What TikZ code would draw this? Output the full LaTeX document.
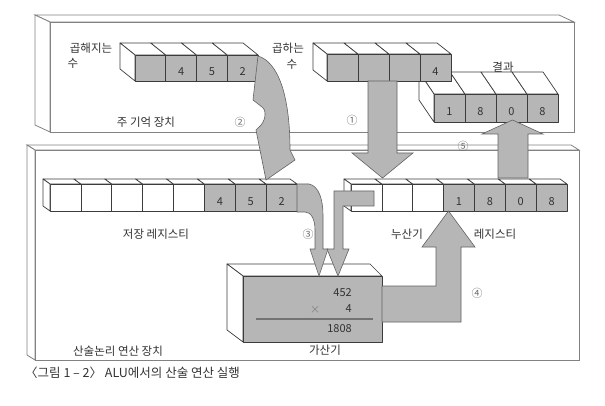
\documentclass[tikz,border=0pt]{standalone}
\usepackage{fontspec}
\setmainfont{Noto Sans CJK KR}
\definecolor{fillg}{RGB}{182,182,182}
\definecolor{linec}{RGB}{60,60,60}
\definecolor{boxc}{RGB}{130,130,130}
\definecolor{txt}{RGB}{50,50,50}
\definecolor{circc}{RGB}{110,110,110}
\tikzset{
  regline/.style={draw=linec, line width=0.7pt, line join=round},
  boxline/.style={draw=boxc, line width=0.8pt, fill=white},
  arrowshape/.style={draw=linec!80, line width=0.6pt, fill=fillg, line join=miter},
  digit/.style={text=txt, font=\fontsize{11}{12}\selectfont, inner sep=0pt},
  lbl/.style={text=txt, font=\fontsize{11.5}{13}\selectfont, inner sep=0pt},
  circnum/.style={text=circc, font=\fontsize{11}{12}\selectfont, inner sep=0pt},
}
% register: x0, ytop, ybot, cell width, dx, dy, list colour/label
\newcommand{\regdraw}[7]{%
  \foreach [count=\ii from 0] \fc/\lb in {#7} {%
    \pgfmathsetmacro\xa{#1+\ii*#4}%
    \pgfmathsetmacro\xb{#1+(\ii+1)*#4}%
    \filldraw[regline, fill=white] (\xa,#2) -- (\xb,#2) -- (\xb-#5,#2-#6) -- (\xa-#5,#2-#6) -- cycle;
    \filldraw[regline, fill=\fc] (\xa,#2) rectangle (\xb,#3);
    \node[digit] at ({(\xa+\xb)/2},{(#2+#3)/2+4}) {\lb};
  }%
  \filldraw[regline, fill=white] (#1,#2) -- (#1-#5,#2-#6) -- (#1-#5,#3-#6) -- (#1,#3) -- cycle;
}
% 3D box: x1,y1 front top-left, x2,y2 front bottom-right, dx, dy, style
\newcommand{\boxthree}[7]{%
  \filldraw[#7] (#1,#2) -- (#3,#2) -- (#3-#5,#2-#6) -- (#1-#5,#2-#6) -- cycle;
  \filldraw[#7] (#1,#2) -- (#1-#5,#2-#6) -- (#1-#5,#4-#6) -- (#1,#4) -- cycle;
  \filldraw[#7] (#1,#2) rectangle (#3,#4);
}
\begin{document}
\begin{tikzpicture}[x=1pt,y=-1pt]
\useasboundingbox (0,0) rectangle (605,406);
% main memory
\boxthree{50}{22}{574}{132}{15}{7}{boxline}
% ALU
\boxthree{35}{150}{579}{360}{8}{5}{boxline}
% registers in memory
\regdraw{434}{94}{122}{31}{15}{22}{fillg/1,fillg/8,fillg/0,fillg/8}
\regdraw{327}{54}{81}{31}{14}{11}{fillg/,fillg/,fillg/,fillg/4}
\regdraw{135}{55}{81}{30.75}{15}{12}{fillg/,fillg/4,fillg/5,fillg/2}
% registers in ALU
\regdraw{50}{184}{211}{30.875}{7}{5}{white/,white/,white/,white/,white/,fillg/4,fillg/5,fillg/2}
\regdraw{351}{184}{211}{30.857}{7}{5}{white/,white/,white/,fillg/1,fillg/8,fillg/0,fillg/8}
% adder
\filldraw[regline, fill=white] (243,276) -- (382,276) -- (370,264) -- (227,264) -- cycle;
\filldraw[regline, fill=white] (243,276) -- (227,264) -- (227,330) -- (243,342) -- cycle;
\filldraw[regline, fill=fillg] (243,276) rectangle (382,342);
\node[digit, anchor=east] (n452) at (352,293) {452};
\node[text=gray, font=\fontsize{10}{11}\selectfont, inner sep=0pt] (times) at (315,310) {×};
\node[digit, anchor=east] (n4) at (352,309) {4};
\draw[draw=gray!90!black, line width=1.2pt] (256,319) -- (373,319);
\node[digit, anchor=east] (n1808) at (352,329) {1808};
% arrow 1
\filldraw[arrowshape] (368,81) -- (397,81) -- (397,153) -- (413,153) -- (382.5,178) -- (352,153) -- (368,153) -- cycle;
% arrow 2
\filldraw[arrowshape] (258,56) .. controls (278,62) and (290,95) .. (290,150) -- (295,160) -- (266,180) -- (256,130) -- (258,128) .. controls (266,122) and (267,110) .. (262,107) -- (253,100) -- cycle;
% arrow 3
\filldraw[arrowshape] (297,184) -- (309,184) .. controls (319,186) and (323,200) .. (323,215) -- (323,249) -- (328,249) -- (319,276) -- (310,249) -- (315,249) -- (315,230) .. controls (315,219) and (311,212) .. (305,212) -- (297,212) -- cycle;
% arrow from accumulator
\filldraw[arrowshape] (374,191) -- (374,206) -- (343,206) -- (343,249) -- (349,249) -- (338,276) -- (327,249) -- (334,249) -- (334,191) -- cycle;
% arrow 4
\filldraw[arrowshape] (382,286) -- (436,286) -- (436,247) -- (422,247) -- (448.5,211) -- (475,247) -- (461,247) -- (461,322) -- (382,322) -- cycle;
% arrow 5
\filldraw[arrowshape] (498,178) -- (498,134) -- (482,134) -- (512.5,120) -- (543,134) -- (528,134) -- (528,178) -- cycle;
% labels
\node[lbl] (t1) at (91,48) {곱해지는};
\node[lbl] (t2) at (73,63) {수};
\node[lbl] (t3) at (288,48) {곱하는};
\node[lbl] (t4) at (292,64) {수};
\node[lbl] (t5) at (503,67) {결과};
\node[lbl] (t6) at (146,122) {주 기억 장치};
\node[lbl] (t7) at (156,234) {저장 레지스티};
\node[lbl] (t8) at (407,234) {누산기};
\node[lbl] (t9) at (495,234) {레지스티};
\node[lbl] (t10) at (118,351) {산술논리 연산 장치};
\node[lbl] (t11) at (325,350) {가산기};
\node[circnum] (c1) at (352,120) {①};
\node[circnum] (c2) at (240,122) {②};
\node[circnum] (c3) at (308,234) {③};
\node[circnum] (c4) at (477,293) {④};
\node[circnum] (c5) at (463,146) {⑤};
\node[text=txt, font=\fontsize{12.5}{14}\selectfont, inner sep=0pt, anchor=west] (cap) at (25,373) {〈그림 1 – 2〉 ALU에서의 산술 연산 실행};
\end{tikzpicture}
\end{document}
